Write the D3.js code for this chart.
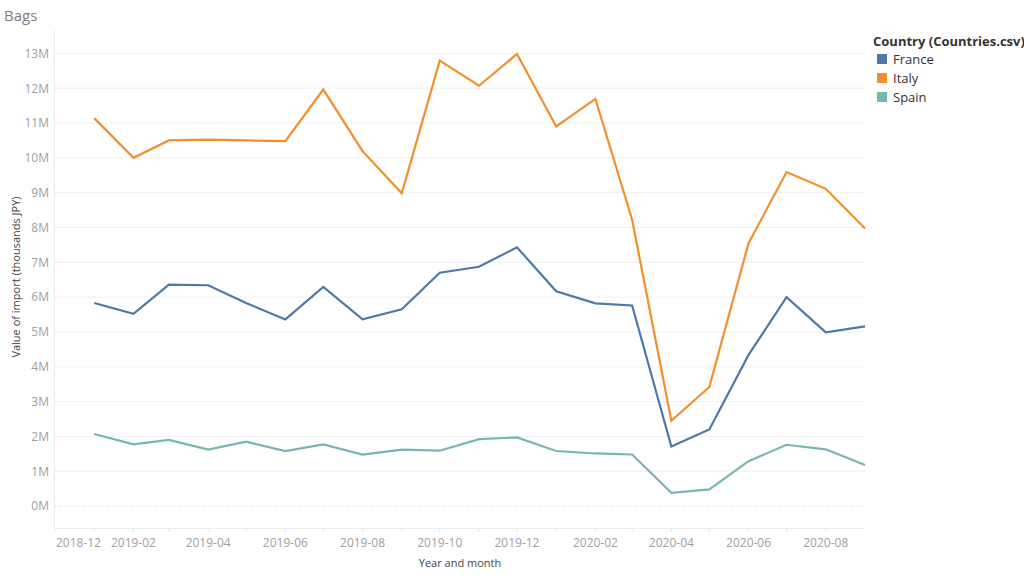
<!DOCTYPE html>
<html>
<head>
<meta charset="utf-8">
<script src="https://cdn.jsdelivr.net/npm/d3@7"></script>
<style>
  html, body { margin: 0; padding: 0; background: #fff; }
  svg { display: block; font-family: "Open Sans", "Noto Sans", sans-serif; }
</style>
</head>
<body>
<svg id="chart" width="1024" height="576"></svg>
<script>
// ---- data (values in millions of thousands JPY) ----
const months = ["2019-01","2019-02","2019-03","2019-04","2019-05","2019-06","2019-07","2019-08","2019-09","2019-10","2019-11","2019-12",
                "2020-01","2020-02","2020-03","2020-04","2020-05","2020-06","2020-07","2020-08","2020-09"];
const france = [5.83,5.52,6.36,6.34,5.83,5.36,6.29,5.36,5.65,6.70,6.87,7.43,6.17,5.82,5.76,1.71,2.20,4.34,6.00,4.99,5.16];
const italy  = [11.14,10.00,10.50,10.52,10.50,10.48,11.96,10.19,8.98,12.79,12.07,12.98,10.90,11.69,8.22,2.45,3.42,7.55,9.59,9.11,7.97];
const spain  = [2.07,1.77,1.90,1.62,1.85,1.58,1.77,1.48,1.62,1.59,1.92,1.97,1.58,1.51,1.48,0.38,0.48,1.29,1.76,1.63,1.18];
const seriesNames = ["France","Italy","Spain"];
const seriesColors = ["#4e79a7","#f28e2b","#76b7b2"];
const yTicks = [0,1,2,3,4,5,6,7,8,9,10,11,12,13];
const xTickLabels = ["2018-12","2019-02","2019-04","2019-06","2019-08","2019-10","2019-12","2020-02","2020-04","2020-06","2020-08"];
const xDomain = ["2018-12","2020-09"];
const chartTitle = "Bags";
const yTitle = "Value of import (thousands JPY)";
const xTitle = "Year and month";
const legendTitle = "Country (Countries.csv)";

(function () {
// ---- layout ----
const svg = d3.select("#chart");
const pLeft = 55, pRight = 865, pTop = 30, pBottom = 528;
const parse = d3.timeParse("%Y-%m");

const x = d3.scaleTime().domain(xDomain.map(parse)).range([pLeft, pRight]);
const y = d3.scaleLinear().domain([-0.63, 13.67]).range([pBottom, pTop]);

// title
svg.append("text").attr("x", 4).attr("y", 21).attr("font-size", 15).attr("fill", "#808080").text(chartTitle);

// gridlines
svg.append("g").selectAll("line").data(yTicks.filter(d => d !== 0)).join("line")
  .attr("x1", pLeft).attr("x2", pRight)
  .attr("y1", d => y(d)).attr("y2", d => y(d))
  .attr("stroke", "#f0f0f0").attr("stroke-width", 1);
// zero line
svg.append("line").attr("x1", pLeft).attr("x2", pRight).attr("y1", y(0)).attr("y2", y(0))
  .attr("stroke", "#d0d0d0").attr("stroke-width", 1).attr("stroke-dasharray", "1,2");

// axis lines
svg.append("line").attr("x1", pLeft - 0.5).attr("x2", pLeft - 0.5).attr("y1", pTop).attr("y2", pBottom)
  .attr("stroke", "#ececec");
svg.append("line").attr("x1", pLeft).attr("x2", pRight).attr("y1", pBottom + 0.5).attr("y2", pBottom + 0.5)
  .attr("stroke", "#ececec");

// y axis labels
const yAxis = d3.axisLeft(y).tickValues(yTicks).tickFormat(d => d + "M").tickSize(0).tickPadding(6);
const gy = svg.append("g").attr("transform", `translate(${pLeft},0)`).call(yAxis);
gy.select(".domain").remove();
gy.selectAll("text").attr("font-size", 12).attr("fill", "#a0a0a0").attr("font-family", "Open Sans, sans-serif");

// x axis: ticks every month, labels every 2 months
const monthTicks = d3.timeMonth.range(parse(xDomain[0]), d3.timeMonth.offset(parse(xDomain[1]), 0));
svg.append("g").selectAll("line").data(monthTicks).join("line")
  .attr("x1", d => x(d)).attr("x2", d => x(d))
  .attr("y1", pBottom + 1).attr("y2", pBottom + 4)
  .attr("stroke", "#e4e4e4");
const xl = svg.append("g").selectAll("text").data(xTickLabels).join("text")
  .attr("x", d => x(parse(d)))
  .attr("y", 547)
  .attr("font-size", 12).attr("fill", "#a0a0a0")
  .attr("text-anchor", (d, i) => i === 0 ? "start" : "middle")
  .text(d => d);
xl.filter((d, i) => i === 0).attr("x", pLeft + 1);

// axis titles
svg.append("text").attr("transform", `translate(19.5,277) rotate(-90)`)
  .attr("text-anchor", "middle").attr("font-size", 11).attr("fill", "#444").text(yTitle);
svg.append("text").attr("x", (pLeft + pRight) / 2).attr("y", 567).attr("text-anchor", "middle")
  .attr("font-size", 11).attr("fill", "#444").text(xTitle);

// lines
const allSeries = [france, italy, spain];
const line = d3.line().x((d, i) => x(parse(months[i]))).y(d => y(d));
svg.append("g").selectAll("path").data(allSeries).join("path")
  .attr("d", d => line(d))
  .attr("fill", "none")
  .attr("stroke", (d, i) => seriesColors[i])
  .attr("stroke-width", 2.2)
  .attr("stroke-linejoin", "miter");

// legend
const lg = svg.append("g");
lg.append("text").attr("x", 873).attr("y", 46).attr("font-size", 13).attr("font-weight", "bold")
  .attr("fill", "#333").text(legendTitle);
const items = lg.selectAll("g.item").data(seriesNames).join("g").attr("class", "item")
  .attr("transform", (d, i) => `translate(877,${59 + i * 19})`);
items.append("rect").attr("x", 0).attr("y", -5).attr("width", 10).attr("height", 10)
  .attr("fill", (d, i) => seriesColors[i]);
items.append("text").attr("x", 16).attr("y", 5).attr("font-size", 13).attr("fill", "#333").text(d => d);
})();
</script>
</body>
</html>
